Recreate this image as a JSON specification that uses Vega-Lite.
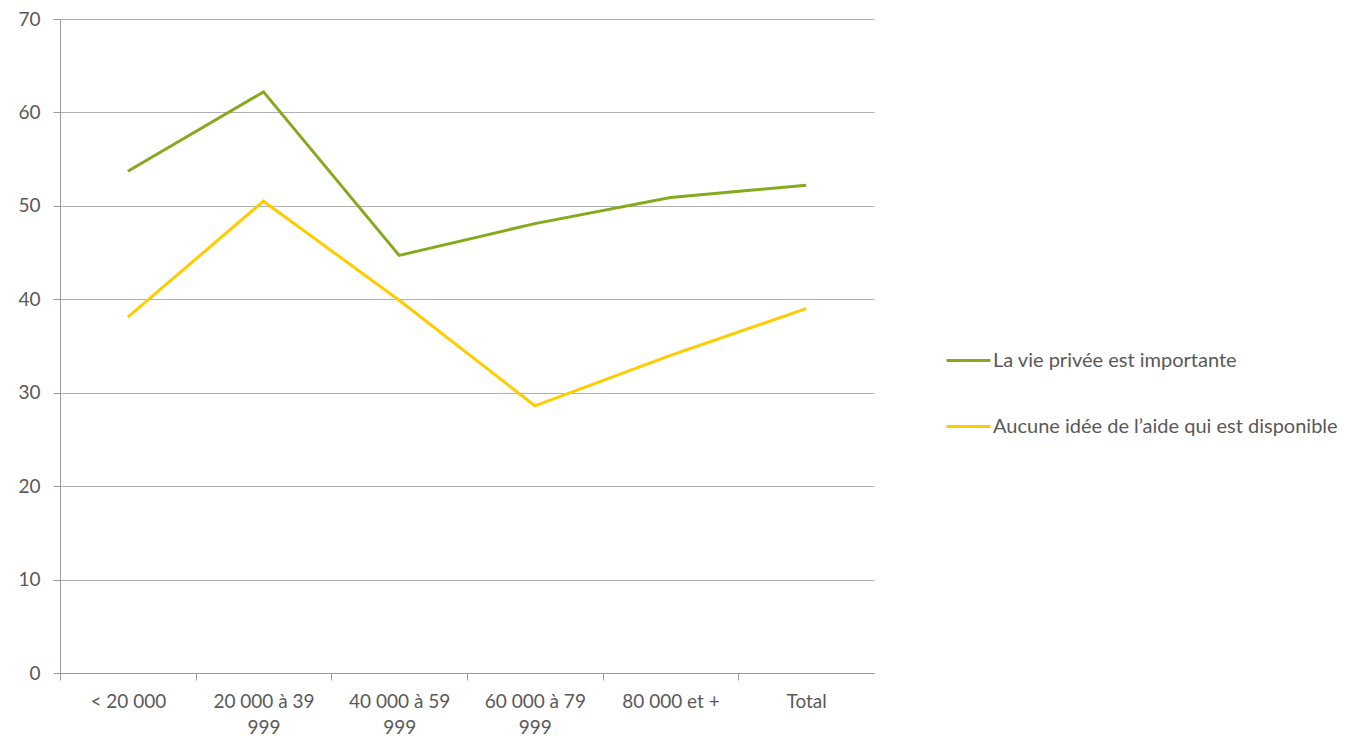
{
  "$schema": "https://vega.github.io/schema/vega-lite/v6.json",
  "width": 814,
  "height": 654,
  "autosize": "none",
  "padding": {"left": 60, "top": 19, "right": 479, "bottom": 66},
  "background": "white",
  "config": {
    "view": {"stroke": null},
    "font": "Lato",
    "axis": {"labelFont": "Lato", "labelColor": "#595959", "labelFontSize": 19, "domainColor": "#9a9a9a", "tickColor": "#9a9a9a", "gridColor": "#b0b0b0", "gridWidth": 1, "tickSize": 7}
  },
  "data": {
    "values": [
      {"cat": "< 20 000", "serie": "La vie privée est importante", "v": 53.7},
      {"cat": "20 000 à 39 999", "serie": "La vie privée est importante", "v": 62.2},
      {"cat": "40 000 à 59 999", "serie": "La vie privée est importante", "v": 44.7},
      {"cat": "60 000 à 79 999", "serie": "La vie privée est importante", "v": 48.1},
      {"cat": "80 000 et +", "serie": "La vie privée est importante", "v": 50.9},
      {"cat": "Total", "serie": "La vie privée est importante", "v": 52.2},
      {"cat": "< 20 000", "serie": "Aucune idée de l’aide qui est disponible", "v": 38.1},
      {"cat": "20 000 à 39 999", "serie": "Aucune idée de l’aide qui est disponible", "v": 50.5},
      {"cat": "40 000 à 59 999", "serie": "Aucune idée de l’aide qui est disponible", "v": 39.9},
      {"cat": "60 000 à 79 999", "serie": "Aucune idée de l’aide qui est disponible", "v": 28.6},
      {"cat": "80 000 et +", "serie": "Aucune idée de l’aide qui est disponible", "v": 34.0},
      {"cat": "Total", "serie": "Aucune idée de l’aide qui est disponible", "v": 39.0}
    ]
  },
  "mark": {"type": "line", "strokeWidth": 3},
  "encoding": {
    "x": {
      "field": "cat", "type": "nominal", "sort": null, "title": null,
      "scale": {"padding": 0.5},
      "axis": {"labelAngle": 0, "grid": false, "labelPadding": 12,
        "tickOffset": -67.83, "labelOffset": 67.83,
        "labelExpr": "indexof(datum.value, ' à ') > 0 ? [slice(datum.value, 0, length(datum.value) - 4), slice(datum.value, -3)] : datum.value",
        "labelLineHeight": 26}
    },
    "y": {
      "field": "v", "type": "quantitative", "title": null,
      "scale": {"domain": [0, 70]},
      "axis": {"values": [0, 10, 20, 30, 40, 50, 60, 70], "labelPadding": 13}
    },
    "color": {
      "field": "serie", "type": "nominal", "sort": null,
      "scale": {"domain": ["La vie privée est importante", "Aucune idée de l’aide qui est disponible"], "range": ["#86aa1e", "#ffcc00"]},
      "legend": {
        "title": null, "orient": "none", "legendX": 885, "legendY": 318, "padding": 0,
        "symbolType": "stroke", "symbolSize": 1936, "symbolStrokeWidth": 3,
        "labelFont": "Lato", "labelFontSize": 20, "labelColor": "#595959", "labelOffset": 1,
        "rowPadding": 32, "labelLimit": 500
      }
    }
  }
}
